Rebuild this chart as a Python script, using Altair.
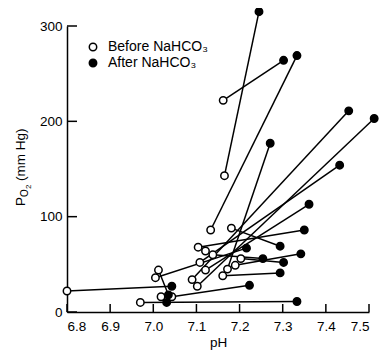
import altair as alt
import pandas as pd

# Before NaHCO3 (open circles)
before_ph = [7.162, 7.165, 7.133, 7.172, 7.090, 7.102, 7.108, 7.121, 7.161, 7.181,
             7.104, 7.005, 7.138, 7.203, 7.190, 7.012, 6.800, 6.970, 7.043, 7.018, 7.121]
before_po2 = [222, 143, 86, 45, 34, 27, 52, 44, 38, 88,
              68, 36, 60, 56, 49, 44, 22, 10, 16, 16, 64]
# After NaHCO3 (filled circles), paired with the before values by index
after_ph = [7.302, 7.245, 7.333, 7.271, 7.453, 7.512, 7.432, 7.361, 7.294, 7.294,
            7.350, 7.216, 7.254, 7.302, 7.342, 7.035, 7.043, 7.333, 7.223, 7.031]
after_po2 = [264, 315, 269, 177, 211, 203, 154, 113, 41, 69,
             86, 67, 56, 52, 61, 18, 27, 11, 28, 10]

x_ticks = [6.8, 6.9, 7.0, 7.1, 7.2, 7.3, 7.4, 7.5]
y_ticks = [0, 100, 200, 300]
labels = ["Before NaHCO\u2083", "After NaHCO\u2083"]

W, H = 302, 286
FONT = "Liberation Sans"

pairs = pd.DataFrame({
    "ph_b": before_ph[:len(after_ph)], "po_b": before_po2[:len(after_ph)],
    "ph_a": after_ph, "po_a": after_po2,
})
pts = pd.concat([
    pd.DataFrame({"ph": before_ph, "po2": before_po2, "status": labels[0]}),
    pd.DataFrame({"ph": after_ph, "po2": after_po2, "status": labels[1]}),
], ignore_index=True)

xs = alt.Scale(domain=[6.8, 7.5], nice=False, zero=False)
ys = alt.Scale(domain=[0, 300], nice=False, zero=False)

xaxis = alt.Axis(values=x_ticks, format=".1f", ticks=False, grid=False,
                 domainColor="black", domainWidth=1.5,
                 labelFontSize=13.5, labelFont=FONT, labelColor="black", labelPadding=7,
                 title="pH", titleFont=FONT, titleFontSize=13.5, titleFontWeight="normal",
                 titleColor="black", titlePadding=3)
yaxis = alt.Axis(values=y_ticks, ticks=False, grid=False,
                 domainColor="black", domainWidth=1.5,
                 labelFontSize=13.5, labelFont=FONT, labelColor="black", labelPadding=5,
                 title=None)

lines = alt.Chart(pairs).mark_rule(color="black", strokeWidth=1.5).encode(
    x=alt.X("ph_b:Q", scale=xs, axis=xaxis),
    y=alt.Y("po_b:Q", scale=ys, axis=yaxis),
    x2="ph_a:Q", y2="po_a:Q",
)

points = alt.Chart(pts).mark_point(shape="circle", size=55, filled=True,
                                   stroke="black", strokeWidth=1.5, opacity=1).encode(
    x=alt.X("ph:Q", scale=xs),
    y=alt.Y("po2:Q", scale=ys),
    fill=alt.Fill("status:N", scale=alt.Scale(domain=labels, range=["white", "black"]),
                  sort=labels,
                  legend=alt.Legend(orient="none", legendX=19, legendY=14, title=None,
                                    labelFont=FONT, labelFontSize=14, labelColor="black",
                                    symbolType="circle", symbolSize=55,
                                    symbolStrokeColor="black", symbolStrokeWidth=1.5,
                                    labelOffset=8, rowPadding=2, padding=0)),
)

xt = alt.Chart(pd.DataFrame({"t": x_ticks})).mark_rule(color="black", strokeWidth=1.5).encode(
    x=alt.X("t:Q", scale=xs), y=alt.value(H), y2=alt.value(H - 8))
yt = alt.Chart(pd.DataFrame({"t": y_ticks})).mark_rule(color="black", strokeWidth=1.5).encode(
    y=alt.Y("t:Q", scale=ys), x=alt.value(0), x2=alt.value(10))

def ttl(text, size, x, y):
    return alt.Chart(pd.DataFrame({"s": [text]})).mark_text(
        angle=270, align="left", baseline="alphabetic", font=FONT, fontSize=size,
        color="black").encode(text="s:N", x=alt.value(x), y=alt.value(y))

title = (ttl("P", 13.5, -42, 180) + ttl("O", 10, -39, 171) + ttl("2", 8, -36, 163)
         + ttl("(mm Hg)", 13.5, -42, 155))

chart = alt.layer(lines, xt, yt, points, title).properties(
    width=W, height=H,
    autosize=alt.AutoSizeParams(type="none"),
    padding={"left": 59, "top": 18, "right": 10, "bottom": 38},
).configure_view(stroke=None)

chart.save("out.html", embed_options={"renderer": "svg", "actions": False})
